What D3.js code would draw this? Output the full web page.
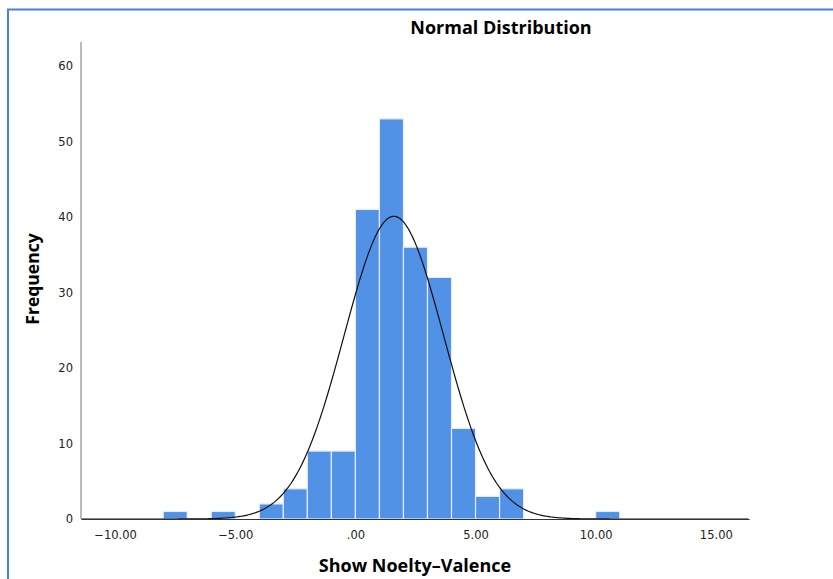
<!DOCTYPE html>
<html>
<head>
<meta charset="utf-8">
<script src="https://cdn.jsdelivr.net/npm/d3@7"></script>
<style>
  body { margin: 0; background: #fff; }
  svg { display: block; }
</style>
</head>
<body>
<div id="chart"></div>
<script>
// histogram bins (lower edge) and their counts
const binStarts = [-8, -6, -4, -3, -2, -1, 0, 1, 2, 3, 4, 5, 6, 10]
const counts    = [ 1,  1,  2,  4,  9,  9, 41, 53, 36, 32, 12, 3, 4, 1]
const binWidth = 1

// normal curve parameters
const curveMean = 1.6
const curveSd = 2.07
const curveN = 208

const xTicks = [-10, -5, 0, 5, 10, 15]
const yTicks = [0, 10, 20, 30, 40, 50, 60]

const width = 833
const height = 579

const svg = d3.select("#chart")
  .append("svg")
    .attr("width", width)
    .attr("height", height)

// blue frame
svg.append("path")
  .attr("d", "M8,579 V9.5 H833")
  .attr("fill", "none")
  .attr("stroke", "#4a7fd8")
  .attr("stroke-width", 2)

const x = d3.scaleLinear().domain([-11.42, 16.38]).range([81, 749])
const y = d3.scaleLinear().domain([0, 60]).range([519, 66])

const fmtX = v => {
  let s = Math.abs(v).toFixed(2)
  if (s.startsWith("0")) s = s.slice(1)
  return (v < 0 ? "\u2212" : "") + s
}

// bars
svg.append("g")
  .selectAll("rect")
  .data(binStarts.map((b, i) => ({ x0: b, x1: b + binWidth, n: counts[i] })))
  .join("rect")
    .attr("x", d => x(d.x0))
    .attr("width", d => x(d.x1) - x(d.x0))
    .attr("y", d => y(d.n))
    .attr("height", d => y(0) - y(d.n))
    .attr("fill", "#5192e7")
    .attr("stroke", "#e4eefb")
    .attr("stroke-width", 1.2)

// normal curve
const curvePts = d3.range(-11.4, 16.38, 0.05).map(v => {
  const z = (v - curveMean) / curveSd
  return [v, curveN * binWidth / (curveSd * Math.sqrt(2 * Math.PI)) * Math.exp(-0.5 * z * z)]
})
svg.append("path")
  .datum(curvePts)
  .attr("fill", "none")
  .attr("stroke", "#111")
  .attr("stroke-width", 1.2)
  .attr("d", d3.line().x(d => x(d[0])).y(d => y(d[1])))

// axes
const xAxis = svg.append("g")
  .attr("transform", "translate(0,519)")
  .call(d3.axisBottom(x).tickValues(xTicks).tickFormat(fmtX).tickSize(0).tickSizeOuter(0).tickPadding(12))
xAxis.select(".domain").attr("stroke", "#333").attr("stroke-width", 1.2)

const yAxis = svg.append("g")
  .attr("transform", "translate(81,0)")
  .call(d3.axisLeft(y).tickValues(yTicks).tickSize(0).tickPadding(8))
yAxis.select(".domain").attr("stroke", "#777").attr("d", "M0,42V519")

svg.selectAll(".tick text")
  .attr("font-family", "DejaVu Sans, sans-serif")
  .attr("font-size", 11.5)
  .attr("fill", "#222")

// titles
svg.append("text")
  .attr("x", 501).attr("y", 34)
  .attr("text-anchor", "middle")
  .attr("font-family", "Open Sans, sans-serif")
  .attr("font-weight", "bold")
  .attr("font-size", 18)
  .text("Normal Distribution")

svg.append("text")
  .attr("x", 415).attr("y", 572)
  .attr("text-anchor", "middle")
  .attr("font-family", "Open Sans, sans-serif")
  .attr("font-weight", "bold")
  .attr("font-size", 18)
  .text("Show Noelty\u2013Valence")

svg.append("text")
  .attr("transform", "translate(39,279) rotate(-90)")
  .attr("text-anchor", "middle")
  .attr("font-family", "Open Sans, sans-serif")
  .attr("font-weight", "bold")
  .attr("font-size", 17.5)
  .text("Frequency")
</script>
</body>
</html>
